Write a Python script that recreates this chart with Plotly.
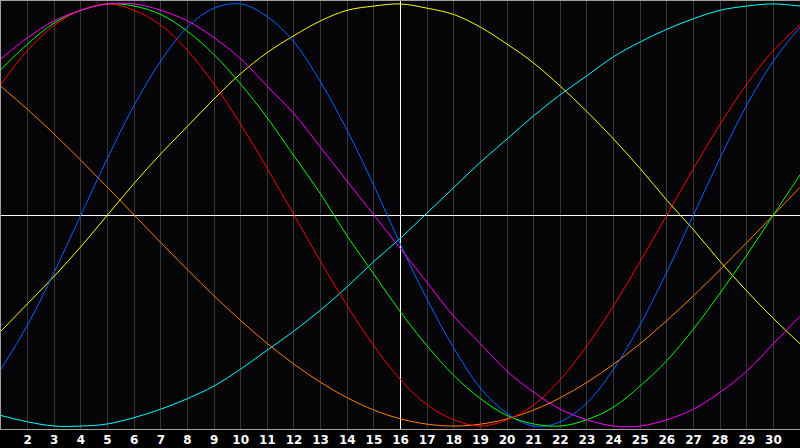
import plotly.graph_objs as go

# Days shown on the chart
days = list(range(1, 32))
tick_days = list(range(2, 31))

# Cycle values, one per day (-1 .. 1)
red = [0.62, 0.78, 0.90, 0.97, 1.00, 0.97, 0.90, 0.78, 0.62, 0.43, 0.22, 0.00, -0.22, -0.43, -0.62, -0.78,
       -0.90, -0.97, -1.00, -0.97, -0.90, -0.78, -0.62, -0.43, -0.22, 0.00, 0.22, 0.43, 0.62, 0.78, 0.90]
green = [0.69, 0.81, 0.91, 0.97, 1.00, 0.99, 0.95, 0.87, 0.76, 0.62, 0.46, 0.28, 0.10, -0.10, -0.28, -0.46,
         -0.62, -0.76, -0.87, -0.95, -0.99, -1.00, -0.97, -0.91, -0.81, -0.69, -0.54, -0.37, -0.19, 0.00, 0.19]
blue = [-0.73, -0.52, -0.27, 0.00, 0.27, 0.52, 0.73, 0.89, 0.98, 1.00, 0.94, 0.82, 0.63, 0.40, 0.14, -0.14,
        -0.40, -0.63, -0.82, -0.94, -1.00, -0.98, -0.89, -0.73, -0.52, -0.27, 0.00, 0.27, 0.52, 0.73, 0.89]
yellow = [-0.55, -0.42, -0.29, -0.15, 0.00, 0.15, 0.29, 0.42, 0.55, 0.67, 0.77, 0.85, 0.92, 0.97, 0.99, 1.00,
          0.98, 0.95, 0.89, 0.81, 0.72, 0.61, 0.49, 0.36, 0.22, 0.07, -0.07, -0.22, -0.36, -0.49, -0.61]
orange = [0.609, 0.500, 0.383, 0.259, 0.131, 0.000, -0.131, -0.259, -0.383, -0.500, -0.609, -0.707, -0.793, -0.866,
          -0.924, -0.966, -0.991, -1.000, -0.991, -0.966, -0.924, -0.866, -0.793, -0.707, -0.609, -0.500, -0.383,
          -0.259, -0.131, 0.000, 0.131]
magenta = [0.74, 0.84, 0.92, 0.97, 1.00, 1.00, 0.97, 0.92, 0.84, 0.74, 0.61, 0.48, 0.32, 0.16, 0.00, -0.16,
           -0.32, -0.48, -0.61, -0.74, -0.84, -0.92, -0.97, -1.00, -1.00, -0.97, -0.92, -0.84, -0.74, -0.61, -0.48]
cyan = [-0.95, -0.98, -1.00, -1.00, -0.99, -0.96, -0.92, -0.87, -0.81, -0.73, -0.64, -0.55, -0.45, -0.34, -0.22, -0.11,
        0.01, 0.13, 0.25, 0.36, 0.47, 0.57, 0.66, 0.75, 0.82, 0.88, 0.93, 0.97, 0.99, 1.00, 0.99]

today = 16
y_lim = 1.014

series = [
    (cyan, "#00ffff"),
    (yellow, "#ffff00"),
    (orange, "#ff8000"),
    (blue, "#0066ff"),
    (green, "#00ff00"),
    (red, "#ff0000"),
    (magenta, "#ff00ff"),
]

fig = go.Figure()
# white marker for the current day, drawn first so curves go over it
fig.add_trace(go.Scatter(x=[today, today], y=[-y_lim, y_lim], mode="lines",
                         line=dict(color="#ffffff", width=1), hoverinfo="skip", showlegend=False))
for vals, col in series:
    fig.add_trace(go.Scatter(x=days, y=vals, mode="lines",
                             line=dict(color=col, width=1, shape="spline", smoothing=1.0),
                             hoverinfo="skip", showlegend=False))

fig.update_layout(
    width=800, height=448,
    margin=dict(l=1, r=0, t=1, b=19, pad=0),
    paper_bgcolor="#000000",
    plot_bgcolor="#050508",
    showlegend=False,
)
fig.update_xaxes(
    range=[1, 31], tickvals=tick_days, ticktext=["<b>%d</b>" % d for d in tick_days],
    tickfont=dict(family="DejaVu Sans", size=12, color="#ffffff"),
    ticks="", showgrid=True, gridcolor="#363636", gridwidth=1, zeroline=False,
    showline=True, linecolor="#a0a0a0", linewidth=1, mirror=True,
)
fig.update_yaxes(
    range=[-y_lim, y_lim], showticklabels=False, ticks="", showgrid=False,
    zeroline=True, zerolinecolor="#ffffff", zerolinewidth=1,
    showline=True, linecolor="#a0a0a0", linewidth=1,
)
fig.write_html("out.html", config={"displayModeBar": False},
               post_script="document.body.style.margin='0';document.body.style.background='#000';")
